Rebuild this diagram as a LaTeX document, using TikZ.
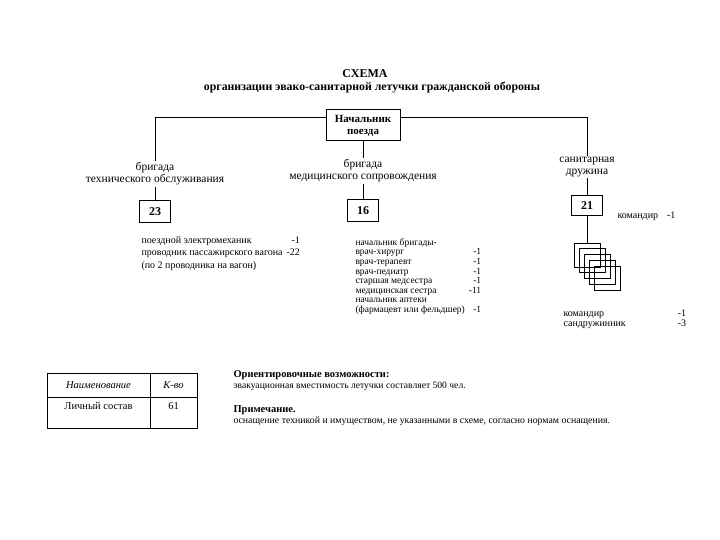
\documentclass[tikz,border=0pt]{standalone}
\usepackage{fontspec}
\setmainfont{Liberation Serif}
\begin{document}
\begin{tikzpicture}[x=1pt,y=-1pt,line width=1pt]
  \tikzset{numbox/.style={draw, font=\fontsize{12}{13}\selectfont\bfseries, minimum width=31pt, minimum height=22pt, inner sep=0pt},
    brig/.style={align=center, font=\fontsize{11.5}{12}\selectfont, inner sep=1pt},
    listtxt/.style={anchor=north west, inner sep=0pt, font=\fontsize{9.5}{9.6}\selectfont},
    sqbox/.style={draw, minimum width=26pt, minimum height=24pt, inner sep=0pt},
    cell/.style={font=\fontsize{10.5}{11}\selectfont, inner sep=0pt}}
  \useasboundingbox (0,0) rectangle (720,540);
  \node[font=\fontsize{12}{13}\selectfont\bfseries] (title) at (365,74) {СХЕМА};
  \node[font=\fontsize{11.8}{12}\selectfont\bfseries] (subtitle) at (372,88) {организации эвако-санитарной летучки гражданской обороны};
  \node[draw, align=center, font=\fontsize{11}{12}\selectfont\bfseries, minimum width=74pt, minimum height=31pt, inner sep=1pt] (chief) at (363,125.5) {Начальник\\поезда};
  \node[brig] (tech) at (155,174) {бригада\\технического обслуживания};
  \node[brig] (med) at (363,171) {бригада\\медицинского сопровождения};
  \node[brig] (san) at (587,167) {санитарная\\дружина};
  \node[numbox] (b23) at (155,211.5) {23};
  \node[numbox] (b16) at (363,211) {16};
  \node[numbox, minimum height=20pt] (b21) at (587,206) {21};
  \foreach \i in {1,...,5}
    \node[sqbox] (sq\i) at ({587+5*(\i-1)}, {255+5.75*(\i-1)}) {};
  % links from the chief
  \draw ([yshift=8pt]chief.west) -| (tech.north);
  \draw ([yshift=8pt]chief.east) -| (san.north);
  \draw (chief.south) -- (med.north);
  \draw (tech.south) -- (b23.north);
  \draw (med.south) -- (b16.north);
  \draw (san.south) -- (b21.north);
  \draw (b21.south) -- (sq1.north);
  % staff lists
  \node[listtxt, font=\fontsize{10}{12.5}\selectfont] (techlist) at (141,234) {\begin{tabular}{@{}l@{\hspace{4pt}}r@{}}
    поездной электромеханик & -1\\
    проводник пассажирского вагона & -22\\
    \multicolumn{2}{@{}l}{(по 2 проводника на вагон)}
  \end{tabular}};
  \node[listtxt] (medlist) at (355,238) {\begin{tabular}{@{}l@{\hspace{4pt}}r@{}}
    начальник бригады- & \\
    врач-хирург & -1\\
    врач-терапевт & -1\\
    врач-педиатр & -1\\
    старшая медсестра & -1\\
    медицинская сестра & -11\\
    начальник аптеки & \\
    (фармацевт или фельдшер) & -1
  \end{tabular}};
  \node[listtxt, anchor=west, font=\fontsize{10}{10}\selectfont] (cmd) at (617,216) {командир\hspace{9pt}-1};
  \node[listtxt, font=\fontsize{10}{10}\selectfont] (sanlist) at (563,309) {\begin{tabular}{@{}l@{\hspace{52pt}}r@{}}
    командир & -1\\
    сандружинник & -3
  \end{tabular}};
  % table
  \draw (47,373) rectangle (197,428);
  \draw (150,373) -- (150,428);
  \draw (47,397) -- (197,397);
  \node[cell, font=\fontsize{10.5}{11}\selectfont\itshape] (hname) at (98.5,385) {Наименование};
  \node[cell, font=\fontsize{10.5}{11}\selectfont\itshape] (hqty) at (173.5,385) {К-во};
  \node[cell] (rname) at (98.5,406) {Личный состав};
  \node[cell] (rqty) at (173.5,406) {61};
  % notes
  \node[anchor=west, inner sep=0pt, font=\fontsize{10.5}{11}\selectfont\bfseries] (caphead) at (233,375) {Ориентировочные возможности:};
  \node[anchor=west, inner sep=0pt, font=\fontsize{9.6}{10}\selectfont] (captext) at (233,386) {эвакуационная вместимость летучки составляет 500 чел.};
  \node[anchor=west, inner sep=0pt, font=\fontsize{10.5}{11}\selectfont\bfseries] (notehead) at (233,410) {Примечание.};
  \node[anchor=west, inner sep=0pt, font=\fontsize{9.8}{10}\selectfont] (notetext) at (233,421) {оснащение техникой и имуществом, не указанными в схеме, согласно нормам оснащения.};
\end{tikzpicture}
\end{document}
